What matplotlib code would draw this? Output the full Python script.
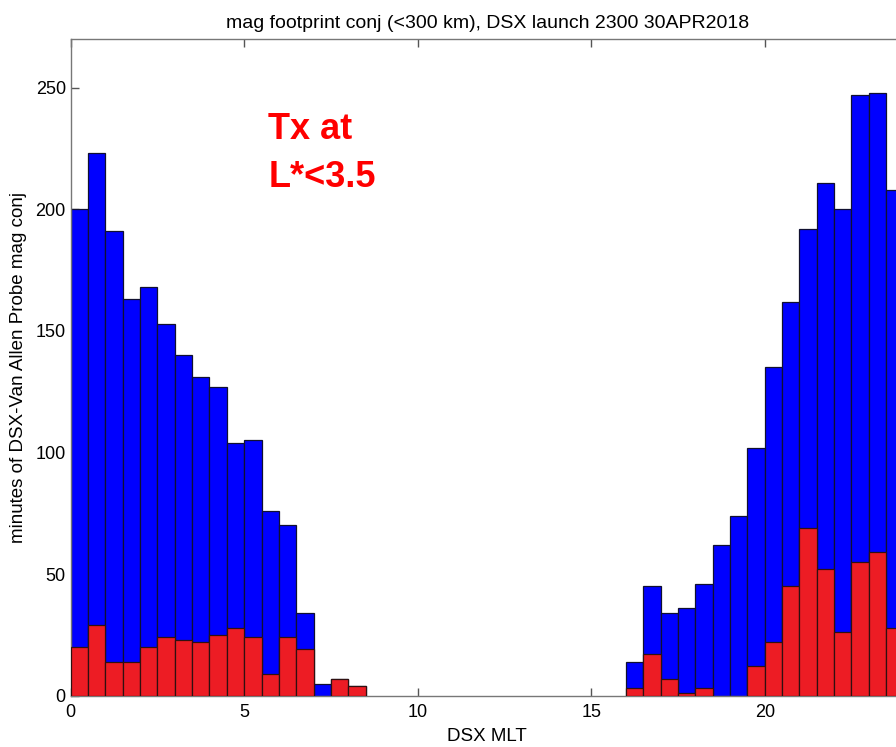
import matplotlib.pyplot as plt
import numpy as np

plt.rcParams['font.family'] = ['Liberation Sans', 'DejaVu Sans']

# half-hour MLT bins, 0..24
bin_edges = np.arange(0, 24.5, 0.5)

# all conjunction minutes per bin (blue)
total_min = [200, 223, 191, 163, 168, 153, 140, 131, 127, 104, 105, 76,
             70, 34, 5, 7, 4,
             0, 0, 0, 0, 0, 0, 0, 0, 0, 0, 0, 0, 0, 0, 0,
             14, 45, 34, 36, 46, 62, 74, 102, 135, 162, 192, 211,
             200, 247, 248, 208]

# minutes with Tx at L*<3.5 (red)
tx_min = [20, 29, 14, 14, 20, 24, 23, 22, 25, 28, 24, 9,
          24, 19, 0, 7, 4,
          0, 0, 0, 0, 0, 0, 0, 0, 0, 0, 0, 0, 0, 0, 0,
          3, 17, 7, 1, 3, 0, 0, 12, 22, 45, 69, 52,
          26, 55, 59, 28]

x_ticks = [0, 5, 10, 15, 20]
y_ticks = [0, 50, 100, 150, 200, 250]

fig = plt.figure(figsize=(8.96, 7.47), dpi=100)
ax = fig.add_axes([0.0789, 0.0687, 0.9295, 0.879])

left = bin_edges[:-1]
w = np.diff(bin_edges)
tot = np.array(total_min)
tx = np.array(tx_min)

m = tot > 0
ax.bar(left[m], tot[m], width=w[m], align='edge', color='#0000ff',
       edgecolor='#101030', linewidth=0.9, zorder=2)
m = tx > 0
ax.bar(left[m], tx[m], width=w[m], align='edge', color='#ed1c24',
       edgecolor='#301010', linewidth=0.9, zorder=3)

ax.set_xlim(0, 24)
ax.set_ylim(0, 270)
ax.set_xticks(x_ticks)
ax.set_yticks(y_ticks)
ax.tick_params(direction='in', length=6, top=True, right=True,
               labelsize=13, color='#555555', width=1)
ax.tick_params(axis='x', pad=6)
for s in ax.spines.values():
    s.set_color('#777777')
    s.set_linewidth(1)

ax.set_title('mag footprint conj (<300 km), DSX launch 2300 30APR2018',
             fontsize=14, pad=8)
ax.set_xlabel('DSX MLT', fontsize=13.5, labelpad=5)
ax.set_ylabel('minutes of DSX-Van Allen Probe mag conj', fontsize=13.5,
              labelpad=6)

ax.text(5.7, 223, 'Tx at\nL*<3.5', color='red', fontsize=26,
        fontweight='bold', va='center', ha='left', linespacing=1.5)

fig.savefig('out.png', dpi=100)
